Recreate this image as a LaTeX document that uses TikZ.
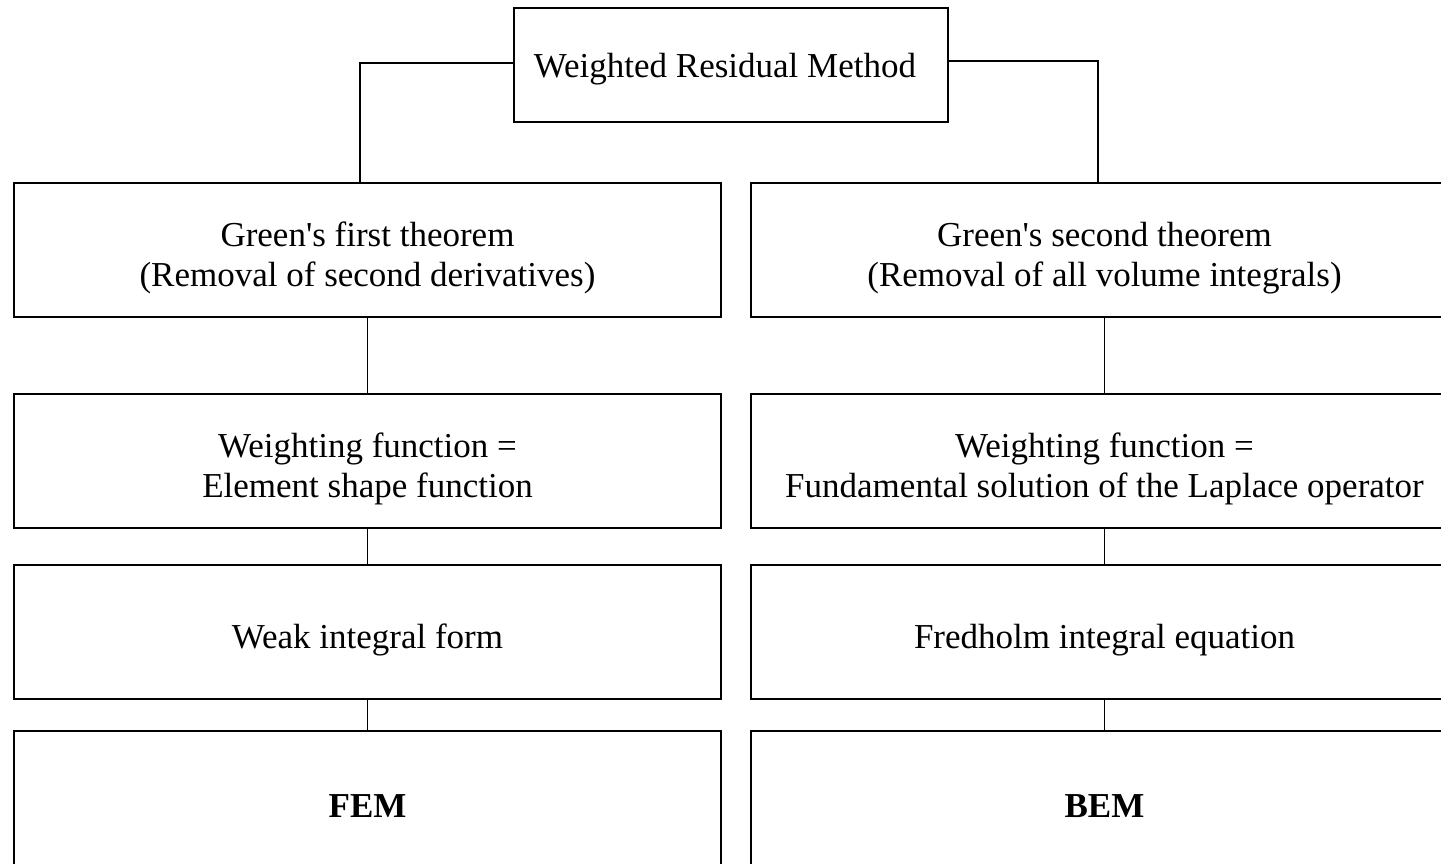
\documentclass[tikz,border=0pt]{standalone}
\usepackage{fontspec}
\setmainfont{Liberation Serif}
\newcommand{\apos}{\textquotesingle}
\begin{document}
\begin{tikzpicture}[x=1pt,y=-1pt,
  txt/.style={font=\fontsize{35}{40.5}\selectfont,align=center,inner sep=0pt},
  box/.style={draw,line width=2pt,minimum width=707pt,minimum height=134pt,
    inner sep=0pt,label={[txt,yshift=-8pt]center:#1}},
  link/.style={line width=1.6pt}]
\useasboundingbox (0,0) rectangle (1441,863);
\clip (0,0) rectangle (1441,863);
\fill[white] (0,0) rectangle (1441,863);

% root
\node[draw,line width=2pt,minimum width=434pt,minimum height=114pt,inner sep=0pt,
  label={[txt,xshift=-6pt,yshift=-4pt]center:Weighted Residual Method}] (root) at (731,65) {};

% left column (FEM)
\node[box={Green\apos s first theorem\\(Removal of second derivatives)}] (l1) at (367.5,250) {};
\node[box={Weighting function =\\Element shape function}] (l2) at (367.5,461) {};
\node[box={Weak integral form}] (l3) at (367.5,632) {};
\node[box={\bfseries FEM}] (l4) at (367.5,798) {};

% right column (BEM)
\node[box={Green\apos s second theorem\\(Removal of all volume integrals)}] (r1) at (1104.5,250) {};
\node[box={Weighting function =\\Fundamental solution of the Laplace operator}] (r2) at (1104.5,461) {};
\node[box={Fredholm integral equation}] (r3) at (1104.5,632) {};
\node[box={\bfseries BEM}] (r4) at (1104.5,798) {};

% branches from the root
\draw[link] ([yshift=2pt]root.west) -| ([xshift=-7.5pt]l1.north);
\draw[link] ([yshift=4pt]root.east) -| ([xshift=-6.5pt]r1.north);

% chains
\draw[link] (l1.south) -- (l2.north);
\draw[link] (l2.south) -- (l3.north);
\draw[link] (l3.south) -- (l4.north);
\draw[link] (r1.south) -- (r2.north);
\draw[link] (r2.south) -- (r3.north);
\draw[link] (r3.south) -- (r4.north);
\end{tikzpicture}
\end{document}
